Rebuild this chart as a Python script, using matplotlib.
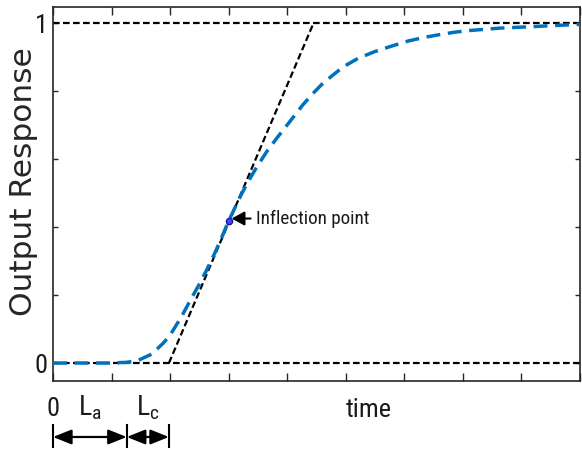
import matplotlib
matplotlib.use("Agg")
import matplotlib.pyplot as plt

# ---- data ----
t = [0, 0.5, 1.0, 1.25, 1.43, 1.684, 1.88, 2.0, 2.2, 2.34, 2.48, 2.62, 2.765, 2.88,
     3.0, 3.19, 3.33, 3.475, 3.647, 3.82, 4.044, 4.27, 4.44, 4.61, 4.954, 5.21,
     5.495, 5.78, 6.063, 6.348, 6.604, 6.86, 7.12, 7.63, 8.14, 8.6, 9.0]
response = [0, 0, 0, 0.002, 0.006, 0.026, 0.058, 0.082, 0.138, 0.183, 0.226, 0.272,
            0.324, 0.369, 0.418, 0.487, 0.533, 0.575, 0.621, 0.661, 0.71, 0.76,
            0.793, 0.823, 0.871, 0.896, 0.916, 0.932, 0.947, 0.958, 0.966, 0.973,
            0.978, 0.985, 0.989, 0.993, 0.996]
tangent_t = [1.98, 4.45]
tangent_y = [0.0, 1.0]
inflection = (3.01, 0.419)
L_a_end = 1.26
L_c_end = 1.98
x_range = [0, 9]
ytick_vals = [0, 0.2, 0.4, 0.6, 0.8, 1.0]
ytick_labels = ["0", "", "", "", "", "1"]
xtick_vals = list(range(0, 10))

NARROW = "Roboto Condensed"
plt.rcParams["mathtext.fontset"] = "custom"
plt.rcParams["mathtext.rm"] = NARROW
plt.rcParams["mathtext.it"] = NARROW

fig = plt.figure(figsize=(5.82, 4.5), dpi=100)
ax = fig.add_axes([53 / 582, 1 - 380.7 / 450, 527 / 582, 374 / 450])

ax.set_xlim(x_range)
ax.set_ylim(-0.052, 1.048)

# reference lines
ax.plot(x_range, [0, 0], color="black", lw=1.6, dashes=(3.0, 1.5), zorder=2)
ax.plot(x_range, [1, 1], color="black", lw=1.6, dashes=(3.0, 1.5), zorder=2)
ax.plot(tangent_t, tangent_y, color="black", lw=1.6, dashes=(3.0, 1.5), zorder=2)

# response curve
ax.plot(t, response, color="#0072BD", lw=2.5, dashes=(4, 2.2), zorder=3,
        dash_capstyle="butt", dash_joinstyle="round")

# inflection point
ax.plot([inflection[0]], [inflection[1]], "o", ms=4.5, mfc="#4646ff", mec="#1a1ab0",
        mew=1, zorder=4)
ax.annotate("Inflection point", xy=(inflection[0] + 0.04, inflection[1] + 0.006),
            xytext=(3.47, inflection[1] + 0.006), va="center", ha="left",
            fontsize=13.8, family=NARROW, color="#1a1a1a",
            arrowprops=dict(arrowstyle="-|>,head_length=0.55,head_width=0.3",
                            color="black", lw=1.5, mutation_scale=14,
                            shrinkA=2, shrinkB=0))

# ticks
ax.set_xticks(xtick_vals)
ax.set_xticklabels([])
ax.set_yticks(ytick_vals)
ax.set_yticklabels(ytick_labels, family=NARROW, fontsize=19, color="#1a1a1a")
ax.tick_params(axis="x", direction="in", length=5.8, width=1, top=True,
               color="#262626")
ax.tick_params(axis="y", direction="in", length=3.6, width=1, right=True,
               color="#262626", pad=4)
for s in ax.spines.values():
    s.set_color("#262626")
    s.set_linewidth(1.2)

ax.set_ylabel("Output Response", family="DejaVu Sans", fontsize=22.5,
              color="#262626", va="center")
ax.yaxis.set_label_coords((23.5 - 53) / 527, (380.7 - 181.5) / 374)

# lower annotations (x in data, y in axes fraction)
trans = ax.get_xaxis_transform()
ax.text(0.0, -0.094, "0", transform=trans, ha="center", va="baseline",
        family=NARROW, fontsize=19, color="#1a1a1a")
ax.text(L_a_end / 2, -0.094, r"$\mathrm{L_a}$", transform=trans, ha="center",
        va="baseline", fontsize=20, color="#1a1a1a")
ax.text((L_a_end + L_c_end) / 2, -0.094, r"$\mathrm{L_c}$", transform=trans,
        ha="center", va="baseline", fontsize=20, color="#1a1a1a")
ax.text(5.39, -0.097, "time", transform=trans, ha="center", va="baseline",
        family=NARROW, fontsize=19, color="#1a1a1a")

for xb in [0.0, L_a_end, L_c_end]:
    ax.plot([xb, xb], [-0.118, -0.177], transform=trans, color="black", lw=1.5,
            clip_on=False)
arrow_kw = dict(arrowstyle="<|-|>,head_length=0.8,head_width=0.32", color="black",
                lw=1.6, mutation_scale=14, shrinkA=0, shrinkB=0)
ax.annotate("", xy=(0.0, -0.1505), xytext=(L_a_end, -0.1505), xycoords=trans,
            textcoords=trans, arrowprops=arrow_kw, annotation_clip=False)
ax.annotate("", xy=(L_a_end, -0.1505), xytext=(L_c_end, -0.1505), xycoords=trans,
            textcoords=trans, arrowprops=arrow_kw, annotation_clip=False)

fig.savefig("out.png", dpi=100)
